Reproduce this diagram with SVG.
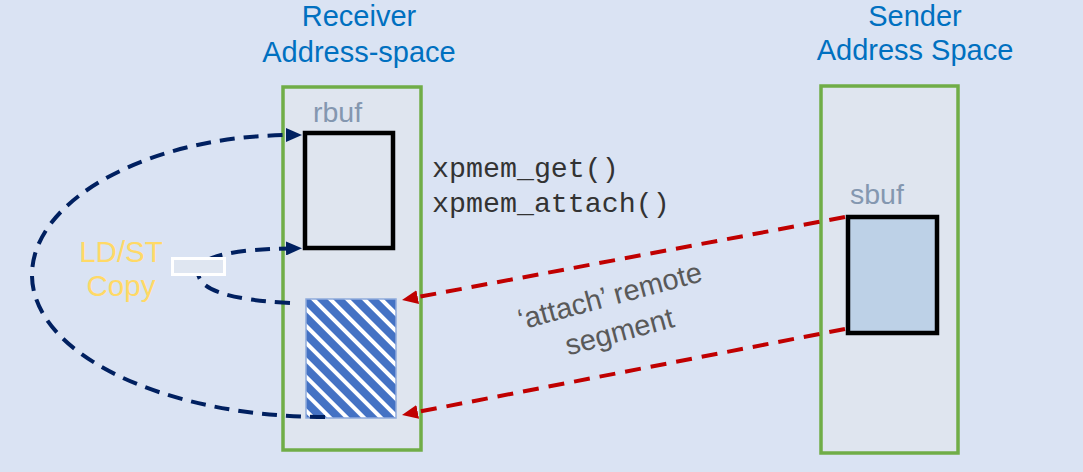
<svg xmlns="http://www.w3.org/2000/svg" width="1083" height="472" viewBox="0 0 1083 472">
  <style>
    .title { font-family: "Liberation Sans", Arial, sans-serif; font-size: 29px; fill: #0070c0; text-anchor: middle; }
    .buflabel { font-family: "Liberation Sans", Arial, sans-serif; font-size: 28.5px; fill: #8497b0; }
    .code { font-family: "Liberation Mono", "Courier New", monospace; font-size: 28.3px; fill: #333333; }
    .copy { font-family: "Liberation Sans", Arial, sans-serif; font-size: 29.5px; fill: #ffd966; text-anchor: middle; }
    .note { font-family: "Liberation Sans", Arial, sans-serif; font-size: 29px; fill: #595959; text-anchor: middle; }
    .space { fill: #dfe5ef; stroke: #70ad47; stroke-width: 3.5; }
    .buf { stroke: #000000; stroke-width: 4.5; }
    .red { fill: none; stroke: #c00000; stroke-width: 4; stroke-dasharray: 16 10; }
    .navy { fill: none; stroke: #002060; stroke-width: 4; stroke-dasharray: 15 9; }
  </style>
  <defs>
    <pattern id="hatch" width="12" height="12" patternUnits="userSpaceOnUse" patternTransform="rotate(45)">
      <rect width="12" height="12" fill="#4472c4"/>
      <rect y="0" width="12" height="4" fill="#ffffff"/>
    </pattern>
    <marker id="arrowRed" markerUnits="userSpaceOnUse" markerWidth="16" markerHeight="14" viewBox="0 0 16 14" refX="6" refY="7" orient="auto">
      <path d="M0,0 L16,7 L0,14 z" fill="#c00000"/>
    </marker>
    <marker id="arrowNavy" markerUnits="userSpaceOnUse" markerWidth="16" markerHeight="14" viewBox="0 0 16 14" refX="6" refY="7" orient="auto">
      <path d="M0,0 L16,7 L0,14 z" fill="#002060"/>
    </marker>
  </defs>

  <!-- background -->
  <rect width="1083" height="472" fill="#dae3f3"/>

  <!-- receiver address space -->
  <g id="receiver">
    <text class="title" x="359" y="26">Receiver</text>
    <text class="title" x="359" y="62">Address-space</text>
    <rect class="space" x="283" y="87" width="138" height="363"/>
  </g>

  <!-- sender address space -->
  <g id="sender">
    <text class="title" x="915" y="26">Sender</text>
    <text class="title" x="915" y="60">Address Space</text>
    <rect class="space" x="821" y="86" width="137" height="367"/>
  </g>

  <g id="rbuf">
    <text class="buflabel" x="313" y="122">rbuf</text>
    <rect class="buf" x="305" y="133" width="88" height="115" fill="#dfe5ef"/>
  </g>

  <g id="sbuf">
    <text class="buflabel" x="850" y="204">sbuf</text>
    <rect class="buf" x="848" y="217" width="89" height="116" fill="#bdd1e7"/>
  </g>

  <!-- attached remote segment -->
  <g id="segment">
    <rect x="306" y="299" width="90" height="119" fill="url(#hatch)" stroke="#8faadc" stroke-width="1.5"/>
  </g>

  <g id="calls">
    <text class="code" x="432" y="177">xpmem_get()</text>
    <text class="code" x="432" y="212">xpmem_attach()</text>
  </g>

  <g id="connectors">
    <!-- attach: sender buffer mapped into receiver -->
    <path class="red" d="M845,217 L411.8,298.2" marker-end="url(#arrowRed)"/>
    <path class="red" d="M845,329 L411.8,413.1" marker-end="url(#arrowRed)"/>
    <!-- load/store copy loops -->
    <path class="navy" d="M325,417 C162,417 32,353 32,275 C32,198 153,135 292,135" marker-end="url(#arrowNavy)"/>
    <path class="navy" d="M290,303 C230,300 198,290 198,272 C198,255 240,249 292,248.4" marker-end="url(#arrowNavy)"/>
  </g>

  <g id="ldst">
    <rect x="172.5" y="258.5" width="52" height="16" fill="#dfe6f1" stroke="#ffffff" stroke-width="3"/>
    <text class="copy" x="121" y="262">LD/ST</text>
    <text class="copy" x="121" y="296">Copy</text>
  </g>

  <g id="note" transform="translate(615,315) rotate(-15)">
    <text class="note" x="0" y="-10">‘attach’ remote</text>
    <text class="note" x="0" y="27">segment</text>
  </g>
</svg>
